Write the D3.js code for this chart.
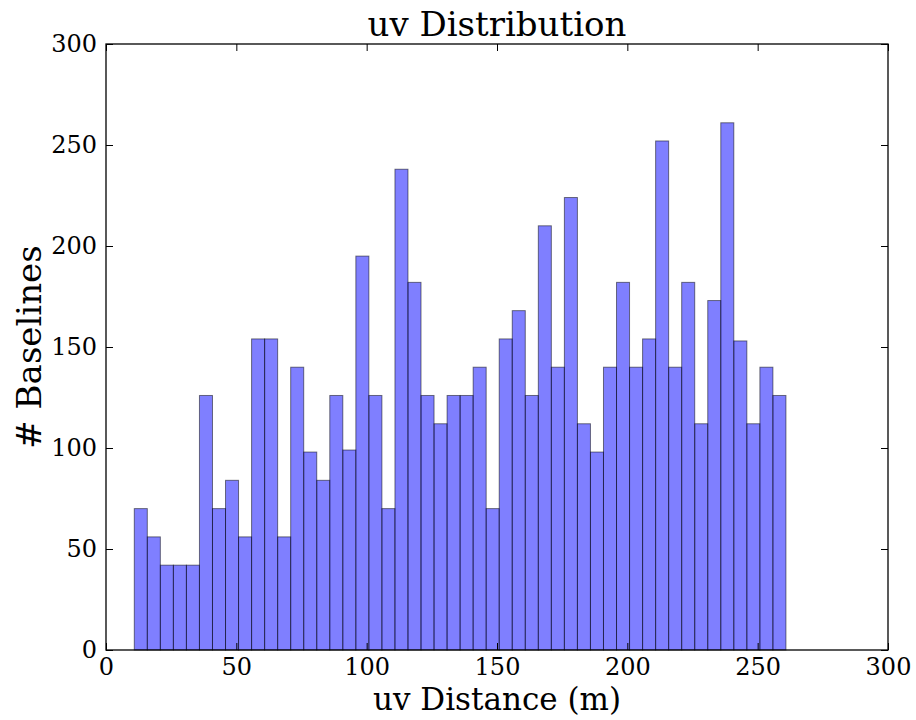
<!DOCTYPE html>
<html>
<head>
<meta charset="utf-8">
<script src="https://cdn.jsdelivr.net/npm/d3@7"></script>
<style>
    body { margin: 0; background: #fff; }
    text { font-family: "DejaVu Serif", serif; fill: #000; }
</style>
</head>
<body>
<div id="chart"></div>
<script>
// histogram counts, one per 5 m bin
const counts = [70, 56, 42, 42, 42, 126, 70, 84, 56, 154,
    154, 56, 140, 98, 84, 126, 99, 195, 126, 70,
    238, 182, 126, 112, 126, 126, 140, 70, 154, 168,
    126, 210, 140, 224, 112, 98, 140, 182, 140, 154,
    252, 140, 182, 112, 173, 261, 153, 112, 140, 126];
const binStart = 10.85;
const binWidth = 5.0;
const xTicks = [0, 50, 100, 150, 200, 250, 300];
const yTicks = [0, 50, 100, 150, 200, 250, 300];

const bins = counts.map((c, i) => ({ x0: binStart + i * binWidth, x1: binStart + (i + 1) * binWidth, count: c }));

const width = 916, height = 720;
const margin = { top: 44, right: 28, bottom: 70, left: 106 };

const svg = d3.select('#chart').append('svg')
    .attr('width', width)
    .attr('height', height);

const x = d3.scaleLinear().domain([0, 300]).range([margin.left, width - margin.right]);
const y = d3.scaleLinear().domain([0, 300]).range([height - margin.bottom, margin.top]);

svg.selectAll('rect.bar')
    .data(bins)
    .enter().append('rect')
    .attr('class', 'bar')
    .attr('x', d => x(d.x0))
    .attr('y', d => y(d.count))
    .attr('width', d => x(d.x1) - x(d.x0))
    .attr('height', d => y(0) - y(d.count))
    .attr('fill', 'blue')
    .attr('fill-opacity', 0.5)
    .attr('stroke', 'black')
    .attr('stroke-opacity', 0.5)
    .attr('stroke-width', 1);

// axes with inward ticks on all four sides
const tickLen = 7;
const styleAxis = g => {
    g.select('.domain').remove();
    g.selectAll('.tick line').attr('stroke', '#000').attr('stroke-width', 1);
    g.selectAll('.tick text').style('font-size', '24px').style('font-family', '"DejaVu Serif", serif');
};

svg.append('g')
    .attr('transform', `translate(0,${y(0)})`)
    .call(d3.axisBottom(x).tickValues(xTicks).tickSizeInner(-tickLen).tickSizeOuter(0).tickPadding(8))
    .call(styleAxis);

svg.append('g')
    .attr('transform', `translate(0,${y(300)})`)
    .call(d3.axisTop(x).tickValues(xTicks).tickSizeInner(-tickLen).tickSizeOuter(0).tickFormat(''))
    .call(styleAxis);

svg.append('g')
    .attr('transform', `translate(${x(0)},0)`)
    .call(d3.axisLeft(y).tickValues(yTicks).tickSizeInner(-tickLen).tickSizeOuter(0).tickPadding(9))
    .call(styleAxis);

svg.append('g')
    .attr('transform', `translate(${x(300)},0)`)
    .call(d3.axisRight(y).tickValues(yTicks).tickSizeInner(-tickLen).tickSizeOuter(0).tickFormat(''))
    .call(styleAxis);

// frame
svg.append('rect')
    .attr('x', x(0))
    .attr('y', y(300))
    .attr('width', x(300) - x(0))
    .attr('height', y(0) - y(300))
    .attr('fill', 'none')
    .attr('stroke', '#000')
    .attr('stroke-width', 1.3);

svg.append('text')
    .attr('x', (x(0) + x(300)) / 2)
    .attr('y', 36)
    .attr('text-anchor', 'middle')
    .style('font-size', '34px')
    .text('uv Distribution');

svg.append('text')
    .attr('x', (x(0) + x(300)) / 2)
    .attr('y', 710)
    .attr('text-anchor', 'middle')
    .style('font-size', '31px')
    .text('uv Distance (m)');

svg.append('text')
    .attr('transform', `translate(41,${(y(0) + y(300)) / 2}) rotate(-90)`)
    .attr('text-anchor', 'middle')
    .style('font-size', '34px')
    .text('# Baselines');
</script>
</body>
</html>
